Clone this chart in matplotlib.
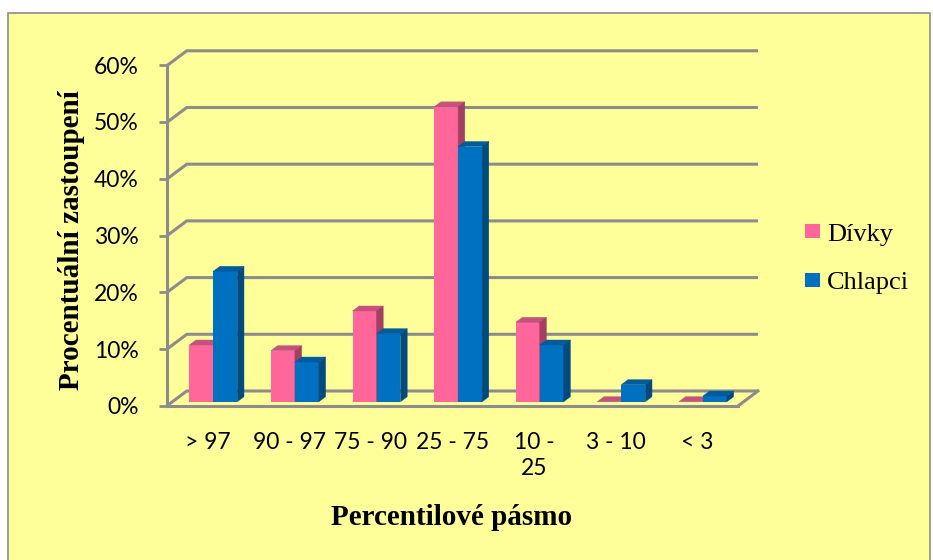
import matplotlib
matplotlib.use("Agg")
import numpy as np
import matplotlib.pyplot as plt
from matplotlib.patches import Polygon, Rectangle, Patch
from matplotlib.ticker import PercentFormatter

# --- data -------------------------------------------------------------
categories = ["> 97", "90 - 97", "75 - 90", "25 - 75", "10 -\n25", "3 - 10", "< 3"]
divky = [0.10, 0.09, 0.16, 0.52, 0.14, 0.00, 0.00]
chlapci = [0.23, 0.07, 0.12, 0.45, 0.10, 0.03, 0.01]
series_names = ["Dívky", "Chlapci"]
y_ticks = [0.0, 0.1, 0.2, 0.3, 0.4, 0.5, 0.6]
x_title = "Percentilové pásmo"
y_title = "Procentuální zastoupení"

# --- styling ----------------------------------------------------------
W, H = 933, 560
BG = "#FFFF99"
GRID = "#8C8C8C"
PINK = ("#FF6699", "#C4527C", "#A23F62")   # front, top, side
BLUE = ("#0070C0", "#005C9E", "#004A80")
TICK_FONT = "Lato"
SERIF = "Liberation Serif"

BAR_W = 0.294                 # width of one bar in category units
BAR_DX, BAR_DY = 0.082, 0.0088   # bar depth (x in categories, y in value units)
WALL_DX, WALL_DY = 0.175, 0.0189  # back wall offset from bar plane
FRONT_DX, FRONT_DY = -0.071, -0.0076  # front axis offset from bar plane


def px_rect(x0, y_top, x1, y_bottom):
    return [x0 / W, 1 - y_bottom / H, (x1 - x0) / W, (y_bottom - y_top) / H]


fig = plt.figure(figsize=(W / 100, H / 100), dpi=100, facecolor="white")

# chart area frame
fig.patches.append(Rectangle((8 / W, -0.05), (930 - 8) / W, 1 - 13 / H + 0.05,
                             transform=fig.transFigure, facecolor=BG,
                             edgecolor=GRID, linewidth=1.2, zorder=-5))

n = len(categories)
idx = np.arange(n)

# front axis plane: value axis and category labels
axf = fig.add_axes(px_rect(166.7, 65, 738, 406))
axf.set_facecolor("none")
axf.set_xlim(-0.5, n - 0.5)
axf.set_ylim(0, 0.6)
for s in ("top", "right"):
    axf.spines[s].set_visible(False)
for s in ("left", "bottom"):
    axf.spines[s].set_color(GRID)
    axf.spines[s].set_linewidth(2.2)
axf.set_yticks(y_ticks)
axf.yaxis.set_major_formatter(PercentFormatter(1.0, decimals=0))
axf.set_xticks(idx, categories)
axf.tick_params(axis="y", direction="out", length=6, width=2, color=GRID,
                pad=14, labelsize=16.5)
axf.tick_params(axis="x", length=0, pad=19, labelsize=16.5)
for lab in axf.get_xticklabels() + axf.get_yticklabels():
    lab.set_fontfamily(TICK_FONT)
    lab.set_color("black")
for lab in axf.get_xticklabels():
    lab.set_linespacing(1.25)

# bar plane
ax = fig.add_axes(px_rect(172.5, 61.5, 743.7, 401.7))
ax.set_xlim(-0.5, n - 0.5)
ax.set_ylim(0, 0.6)
ax.axis("off")

# back wall grid lines with their diagonals along the side wall
x_left, x_right = -0.5, n - 0.5
for v in y_ticks:
    ax.plot([x_left + FRONT_DX, x_left + WALL_DX, x_right + WALL_DX],
            [v + FRONT_DY, v + WALL_DY, v + WALL_DY],
            color=GRID, lw=2.2, solid_capstyle="butt", clip_on=False, zorder=1)
ax.plot([x_right + FRONT_DX, x_right + WALL_DX], [FRONT_DY, WALL_DY],
        color=GRID, lw=2.2, clip_on=False, zorder=1)


def draw_series(x0s, values, colors, z):
    front, top, side = colors
    ax.bar(x0s, values, width=BAR_W, align="edge", color=front,
           linewidth=0, zorder=z, clip_on=False)
    for x0, h in zip(x0s, values):
        x1 = x0 + BAR_W
        ax.add_patch(Polygon([(x0, h), (x1, h), (x1 + BAR_DX, h + BAR_DY),
                              (x0 + BAR_DX, h + BAR_DY)], closed=True,
                             facecolor=top, edgecolor=top, lw=0.3, zorder=z,
                             clip_on=False))
        ax.add_patch(Polygon([(x1, 0), (x1 + BAR_DX, BAR_DY),
                              (x1 + BAR_DX, h + BAR_DY), (x1, h)], closed=True,
                             facecolor=side, edgecolor=side, lw=0.3, zorder=z,
                             clip_on=False))


draw_series(idx - BAR_W, divky, PINK, 3)
draw_series(idx, chlapci, BLUE, 4)

# axis titles
fig.text(452 / W, 1 - 525 / H, x_title, ha="center", va="baseline",
         family=SERIF, weight="bold", fontsize=21)
fig.text(72 / W, 1 - 240 / H, y_title, ha="center", va="center",
         rotation=90, family=SERIF, weight="bold", fontsize=21)

# legend
handles = [Patch(facecolor=PINK[0], edgecolor="none"),
           Patch(facecolor=BLUE[0], edgecolor="none")]
fig.legend(handles, series_names, loc="center left",
           bbox_to_anchor=(805 / W, 1 - 259 / H), frameon=False,
           prop={"family": SERIF, "size": 19}, handlelength=0.58,
           handleheight=0.45, handletextpad=0.25, labelspacing=1.0,
           borderpad=0, borderaxespad=0)

fig.savefig("out.png", dpi=100, facecolor="white")
